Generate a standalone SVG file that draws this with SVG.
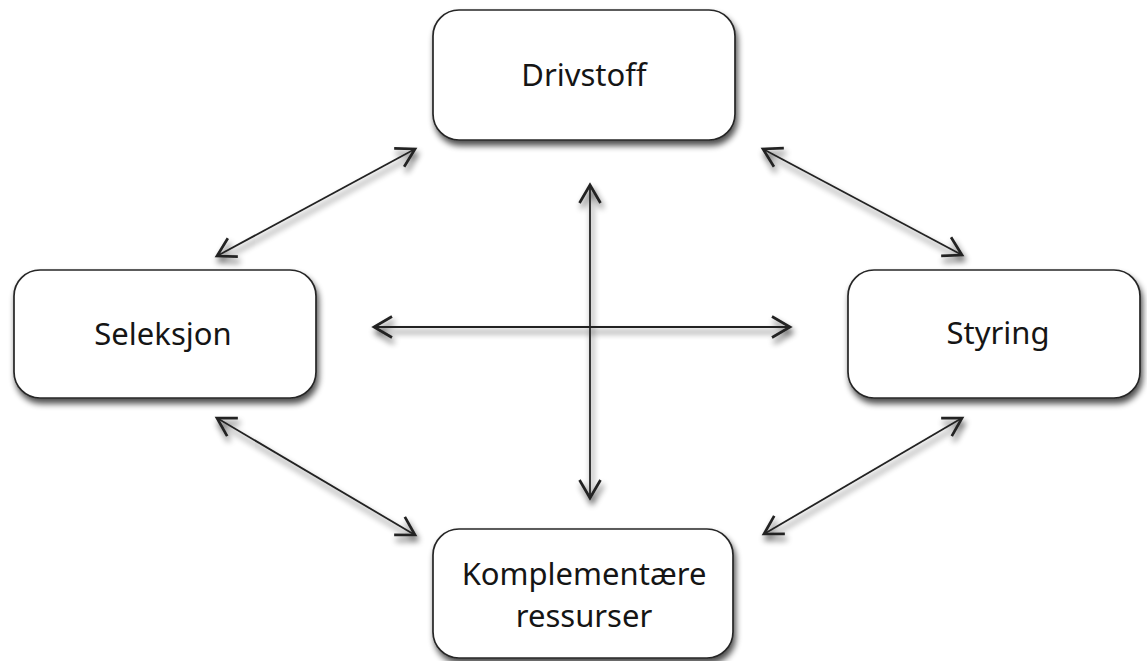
<svg xmlns="http://www.w3.org/2000/svg" width="1147" height="661" viewBox="0 0 1147 661">
  <defs>
    <!-- soft drop shadow shared by boxes and connectors -->
    <filter id="shadow" x="-20%" y="-20%" width="140%" height="150%">
      <feGaussianBlur in="SourceAlpha" stdDeviation="3" result="blur"/>
      <feOffset in="blur" dx="2" dy="5" result="off"/>
      <feComponentTransfer in="off" result="soft">
        <feFuncA type="linear" slope="0.7"/>
      </feComponentTransfer>
      <feMerge>
        <feMergeNode in="soft"/>
        <feMergeNode in="SourceGraphic"/>
      </feMerge>
    </filter>
    <marker id="open" markerUnits="userSpaceOnUse" markerWidth="30" markerHeight="30"
            viewBox="-16 -10 20 20" refX="0" refY="0" orient="auto-start-reverse">
      <path d="M-12,-7 L0,0 L-12,7" fill="none" stroke="#222" stroke-width="1.8" stroke-linejoin="miter"/>
    </marker>
  </defs>
  <style>
    .box { fill: #fff; stroke: #262626; stroke-width: 1.7; }
    .label { font-family: "Noto Sans", "Open Sans", sans-serif; font-size: 31px; fill: #151515; text-anchor: middle; }
    .link { stroke: #222; stroke-width: 1.8; fill: none; marker-start: url(#open); marker-end: url(#open); }
  </style>

  <rect width="1147" height="661" fill="#fff"/>

  <g id="connectors" filter="url(#shadow)">
    <line class="link" x1="217" y1="256" x2="415" y2="149"/>
    <line class="link" x1="763" y1="149" x2="962" y2="255"/>
    <line class="link" x1="217" y1="418" x2="415" y2="535"/>
    <line class="link" x1="962" y1="418" x2="764" y2="534"/>
    <line class="link" x1="374" y1="327" x2="790" y2="327"/>
    <line class="link" x1="590" y1="185" x2="590" y2="498"/>
  </g>

  <g id="drivstoff">
    <rect class="box" x="433" y="10" width="302" height="130" rx="26" filter="url(#shadow)"/>
    <text class="label" x="584" y="86">Drivstoff</text>
  </g>

  <g id="seleksjon">
    <rect class="box" x="14" y="270" width="302" height="128" rx="26" filter="url(#shadow)"/>
    <text class="label" x="163" y="345">Seleksjon</text>
  </g>

  <g id="styring">
    <rect class="box" x="848" y="270" width="292" height="128" rx="26" filter="url(#shadow)"/>
    <text class="label" x="998" y="344">Styring</text>
  </g>

  <g id="komplementaere-ressurser">
    <rect class="box" x="433" y="529" width="300" height="129" rx="26" filter="url(#shadow)"/>
    <text class="label" x="584" y="585">Komplementære</text>
    <text class="label" x="584" y="627">ressurser</text>
  </g>
</svg>
